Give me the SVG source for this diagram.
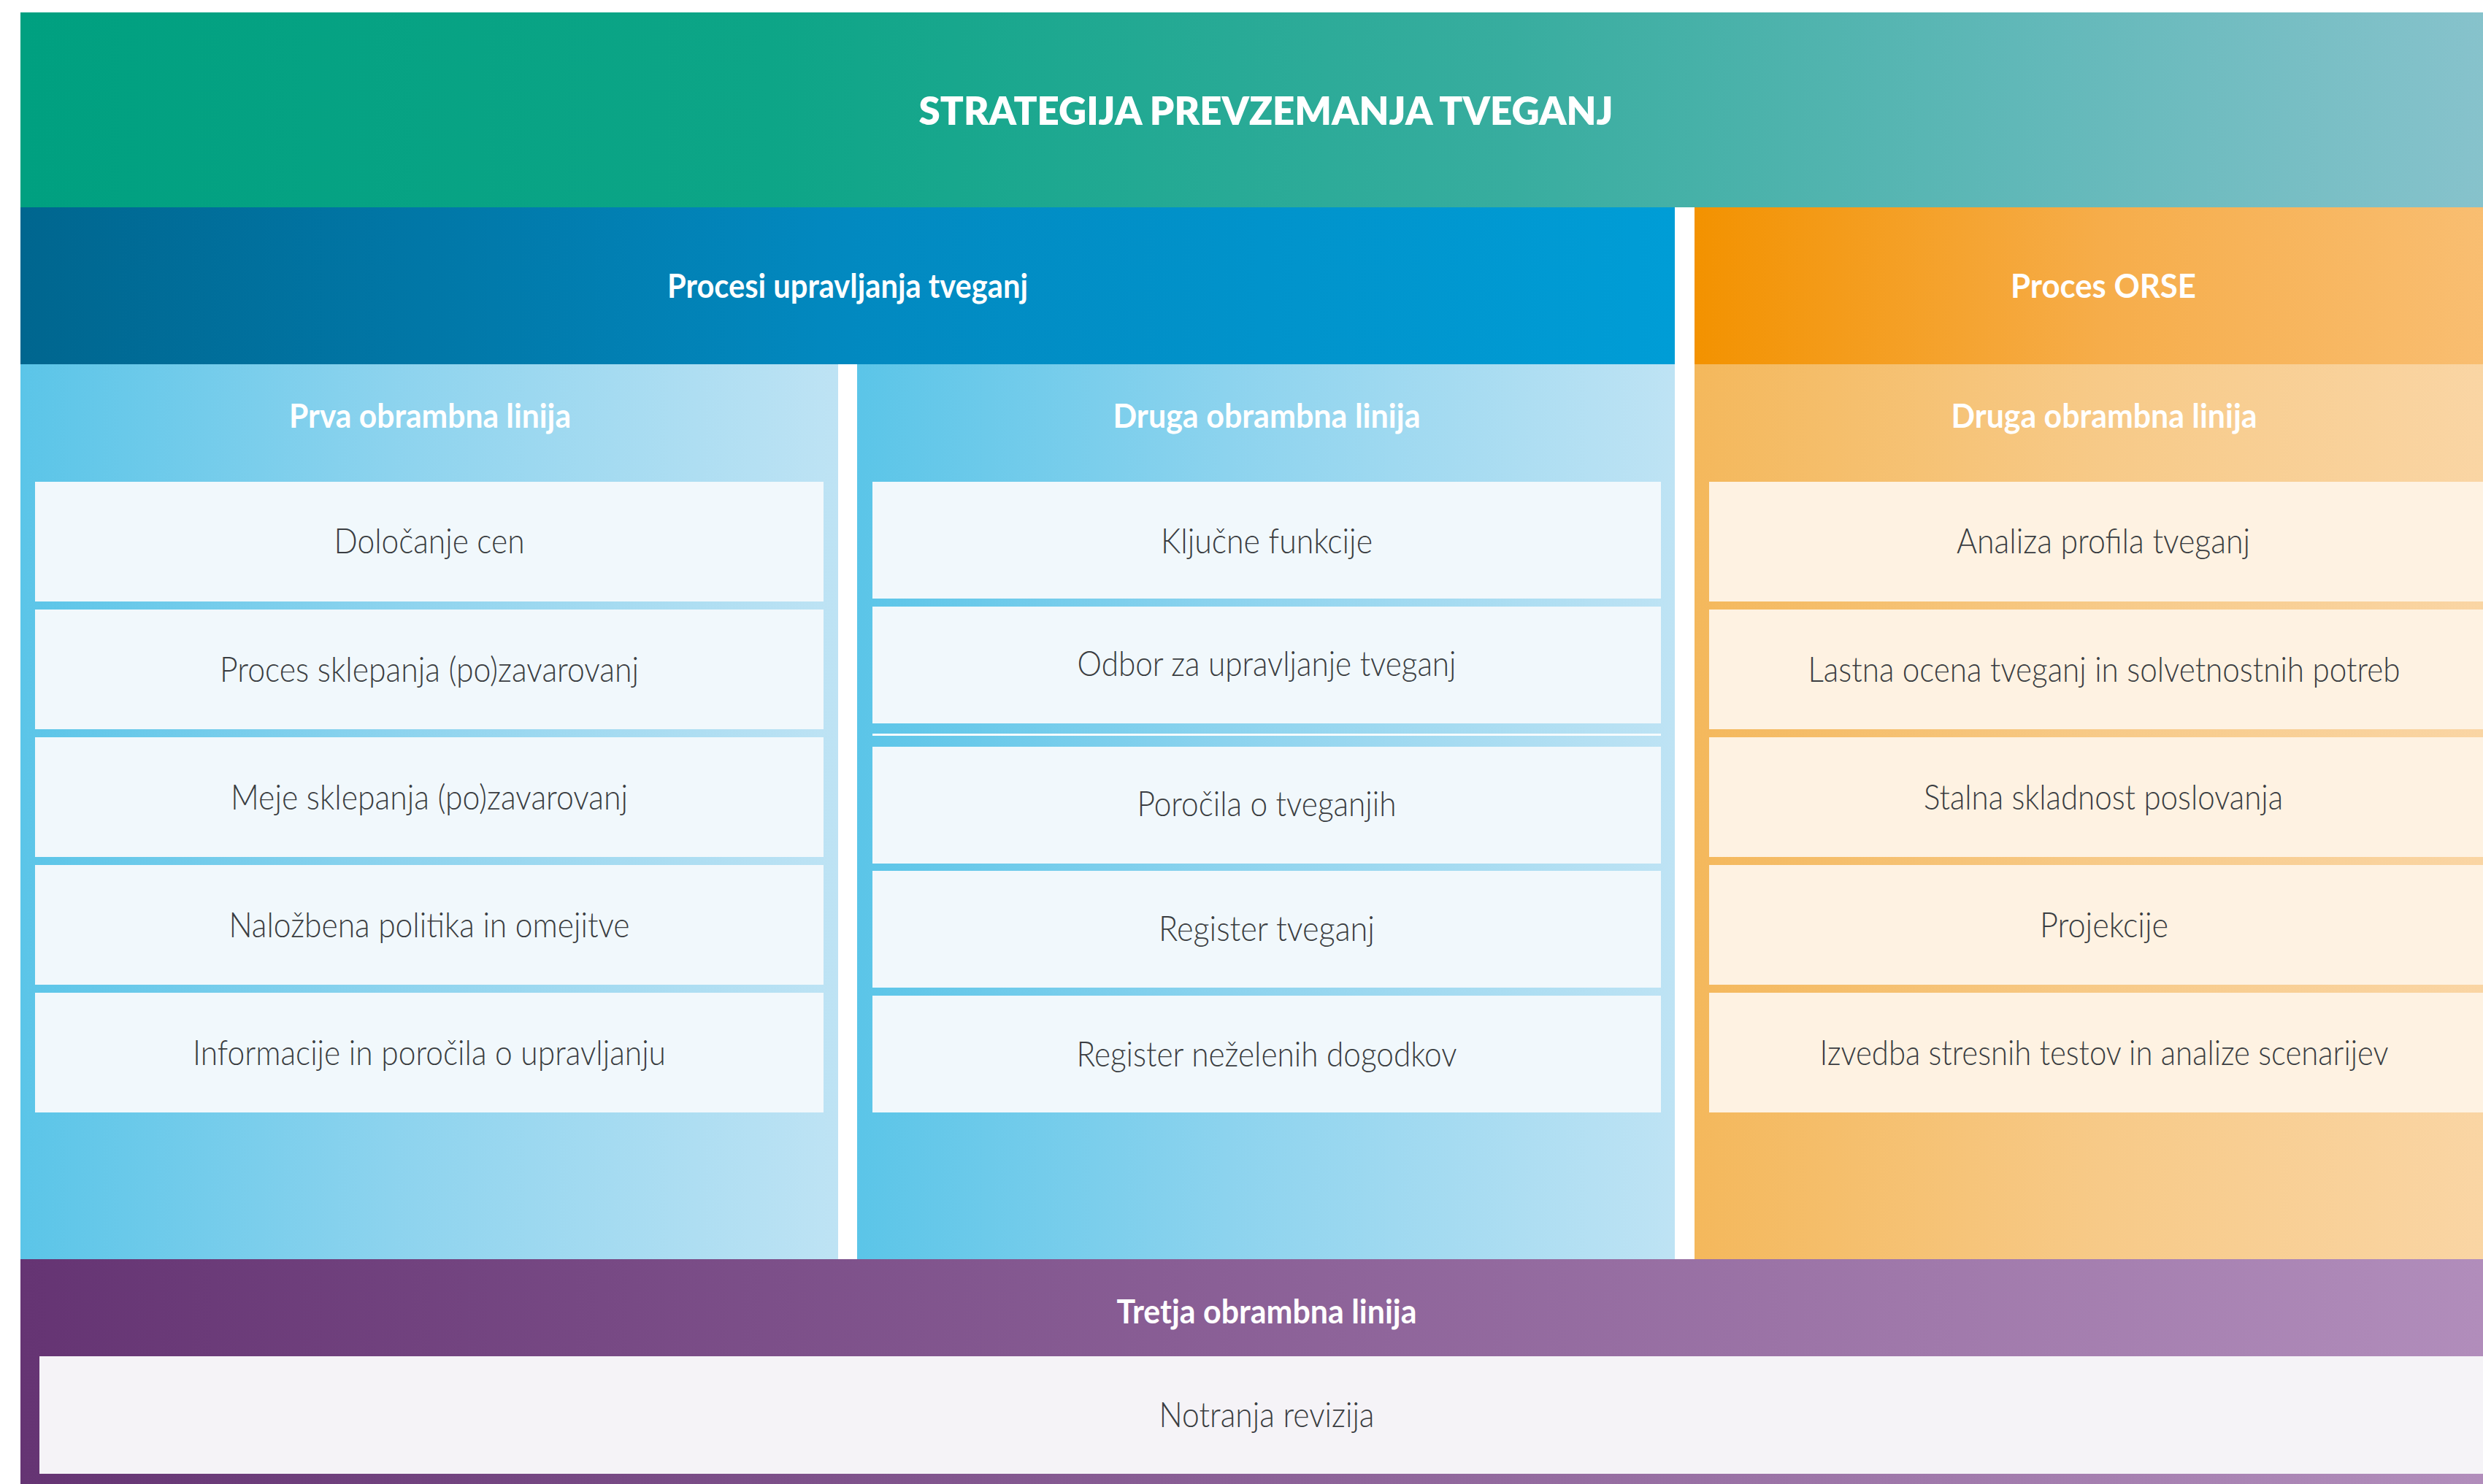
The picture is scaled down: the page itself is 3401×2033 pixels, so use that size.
<svg xmlns="http://www.w3.org/2000/svg" width="3401" height="2033" viewBox="0 0 3401 2033">
<style>
.hd{font-family:Lato,"Liberation Sans",sans-serif;font-weight:700;fill:#ffffff;text-anchor:middle}
.tt{font-size:53px;font-weight:800}
.h1{font-size:46px}
.bx{font-family:Lato,"Liberation Sans",sans-serif;font-weight:300;font-size:48px;fill:#3a3d41;text-anchor:middle}
.cb{fill:#f1f8fc}
.co{fill:#fef2e2}
</style>
<defs>
<linearGradient id="gTop" gradientUnits="userSpaceOnUse" x1="28" y1="0" x2="3441" y2="0">
<stop offset="0" stop-color="#00a080"/>
<stop offset="0.3" stop-color="#0da587"/>
<stop offset="0.6" stop-color="#38ad9f"/>
<stop offset="0.8" stop-color="#60b8b8"/>
<stop offset="1" stop-color="#89c3cd"/>
</linearGradient>
<linearGradient id="gHead" gradientUnits="userSpaceOnUse" x1="28" y1="0" x2="2294" y2="0">
<stop offset="0" stop-color="#00668f"/>
<stop offset="0.5" stop-color="#0289c0"/>
<stop offset="1" stop-color="#009dd6"/>
</linearGradient>
<linearGradient id="gOH" x1="0" y1="0" x2="1" y2="0">
<stop offset="0" stop-color="#f39200"/>
<stop offset="0.5" stop-color="#f6ad4a"/>
<stop offset="1" stop-color="#f9bf74"/>
</linearGradient>
<linearGradient id="gCB" x1="0" y1="0" x2="1" y2="0">
<stop offset="0" stop-color="#5bc5e8"/>
<stop offset="0.45" stop-color="#8cd3ee"/>
<stop offset="1" stop-color="#bee3f4"/>
</linearGradient>
<linearGradient id="gCO" x1="0" y1="0" x2="1" y2="0">
<stop offset="0" stop-color="#f4b85c"/>
<stop offset="0.5" stop-color="#f7ca88"/>
<stop offset="1" stop-color="#fad6a6"/>
</linearGradient>
<linearGradient id="gPur" gradientUnits="userSpaceOnUse" x1="28" y1="0" x2="3441" y2="0">
<stop offset="0" stop-color="#653473"/>
<stop offset="1" stop-color="#b28ebc"/>
</linearGradient>
</defs>
<rect x="0" y="0" width="3401" height="2033" fill="#ffffff"/>

<g id="strategija">
<rect x="28" y="17" width="3413" height="267" fill="url(#gTop)"/>
<text class="hd tt" x="1734" y="171" textLength="951" lengthAdjust="spacingAndGlyphs">STRATEGIJA PREVZEMANJA TVEGANJ</text>
</g>

<g id="procesi-upravljanja">
<rect x="28" y="284" width="2266" height="215" fill="url(#gHead)"/>
<text class="hd h1" x="1161" y="408" textLength="494" lengthAdjust="spacingAndGlyphs">Procesi upravljanja tveganj</text>
</g>

<g id="proces-orse">
<rect x="2321" y="284" width="1120" height="215" fill="url(#gOH)"/>
<text class="hd h1" x="2881" y="408" textLength="254" lengthAdjust="spacingAndGlyphs">Proces ORSE</text>
</g>

<g id="prva-linija">
<rect x="28" y="499" width="1120" height="1226" fill="url(#gCB)"/>
<text class="hd h1" x="589" y="586" textLength="386" lengthAdjust="spacingAndGlyphs">Prva obrambna linija</text>
<g id="dolocanje-cen"><rect class="cb" x="48" y="660" width="1080" height="164"/><text class="bx" x="588" y="758" textLength="261" lengthAdjust="spacingAndGlyphs">Določanje cen</text></g>
<g id="proces-sklepanja"><rect class="cb" x="48" y="835" width="1080" height="164"/><text class="bx" x="588" y="934" textLength="574" lengthAdjust="spacingAndGlyphs">Proces sklepanja (po)zavarovanj</text></g>
<g id="meje-sklepanja"><rect class="cb" x="48" y="1010" width="1080" height="164"/><text class="bx" x="588" y="1109" textLength="544" lengthAdjust="spacingAndGlyphs">Meje sklepanja (po)zavarovanj</text></g>
<g id="nalozbena-politika"><rect class="cb" x="48" y="1185" width="1080" height="164"/><text class="bx" x="588" y="1284" textLength="549" lengthAdjust="spacingAndGlyphs">Naložbena politika in omejitve</text></g>
<g id="informacije"><rect class="cb" x="48" y="1360" width="1080" height="164"/><text class="bx" x="588" y="1459" textLength="648" lengthAdjust="spacingAndGlyphs">Informacije in poročila o upravljanju</text></g>
</g>

<g id="druga-linija-upr">
<rect x="1174" y="499" width="1120" height="1226" fill="url(#gCB)"/>
<text class="hd h1" x="1735" y="586" textLength="421" lengthAdjust="spacingAndGlyphs">Druga obrambna linija</text>
<g id="kljucne-funkcije"><rect class="cb" x="1195" y="660" width="1080" height="160"/><text class="bx" x="1735" y="758" textLength="290" lengthAdjust="spacingAndGlyphs">Ključne funkcije</text></g>
<g id="odbor"><rect class="cb" x="1195" y="831" width="1080" height="160"/><text class="bx" x="1735" y="926" textLength="519" lengthAdjust="spacingAndGlyphs">Odbor za upravljanje tveganj</text></g>
<rect x="1195" y="1005" width="1080" height="3" fill="#f5fbfd"/>
<g id="porocila"><rect class="cb" x="1195" y="1023" width="1080" height="160"/><text class="bx" x="1735" y="1118" textLength="355" lengthAdjust="spacingAndGlyphs">Poročila o tveganjih</text></g>
<g id="register-tveganj"><rect class="cb" x="1195" y="1193" width="1080" height="160"/><text class="bx" x="1735" y="1289" textLength="296" lengthAdjust="spacingAndGlyphs">Register tveganj</text></g>
<g id="register-dogodkov"><rect class="cb" x="1195" y="1364" width="1080" height="160"/><text class="bx" x="1735" y="1461" textLength="521" lengthAdjust="spacingAndGlyphs">Register neželenih dogodkov</text></g>
</g>

<g id="druga-linija-orse">
<rect x="2321" y="499" width="1120" height="1226" fill="url(#gCO)"/>
<text class="hd h1" x="2882" y="586" textLength="419" lengthAdjust="spacingAndGlyphs">Druga obrambna linija</text>
<g id="analiza-profila"><rect class="co" x="2341" y="660" width="1080" height="164"/><text class="bx" x="2881" y="758" textLength="402" lengthAdjust="spacingAndGlyphs">Analiza profila tveganj</text></g>
<g id="lastna-ocena"><rect class="co" x="2341" y="835" width="1080" height="164"/><text class="bx" x="2882" y="934" textLength="811" lengthAdjust="spacingAndGlyphs">Lastna ocena tveganj in solvetnostnih potreb</text></g>
<g id="stalna-skladnost"><rect class="co" x="2341" y="1010" width="1080" height="164"/><text class="bx" x="2881" y="1109" textLength="492" lengthAdjust="spacingAndGlyphs">Stalna skladnost poslovanja</text></g>
<g id="projekcije"><rect class="co" x="2341" y="1185" width="1080" height="164"/><text class="bx" x="2882" y="1284" textLength="176" lengthAdjust="spacingAndGlyphs">Projekcije</text></g>
<g id="stresni-testi"><rect class="co" x="2341" y="1360" width="1080" height="164"/><text class="bx" x="2882" y="1459" textLength="779" lengthAdjust="spacingAndGlyphs">Izvedba stresnih testov in analize scenarijev</text></g>
</g>

<g id="tretja-linija">
<rect x="28" y="1725" width="3413" height="320" fill="url(#gPur)"/>
<text class="hd h1" x="1735" y="1813" textLength="411" lengthAdjust="spacingAndGlyphs">Tretja obrambna linija</text>
<g id="notranja-revizija"><rect x="54" y="1858" width="3361" height="161" fill="#f5f3f7"/><text class="bx" x="1735" y="1955" textLength="295" lengthAdjust="spacingAndGlyphs">Notranja revizija</text></g>
</g>

<g id="connectors"/>
</svg>
